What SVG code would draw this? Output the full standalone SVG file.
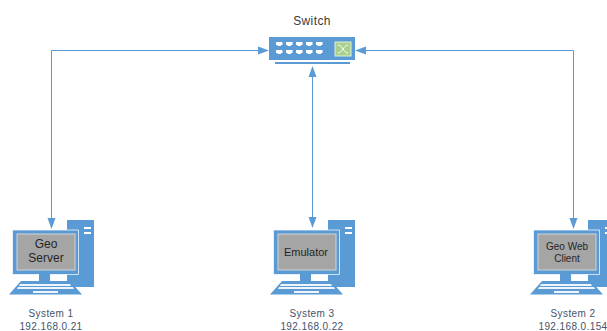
<svg xmlns="http://www.w3.org/2000/svg" xmlns:xlink="http://www.w3.org/1999/xlink" width="607" height="331" viewBox="0 0 607 331">
<style>
text{font-family:"Liberation Sans",Arial,sans-serif;fill:#3a3a3a;text-anchor:middle}
.lab{font-size:10px;letter-spacing:.4px;fill:#44546a}
.in{font-size:12px;fill:#262626}
.b{fill:#5b9bd5}
.w{fill:#fff}
.c{fill:none;stroke:#5b9bd5;stroke-width:1}
</style>
<defs>
<marker id="a" markerUnits="userSpaceOnUse" markerWidth="11" markerHeight="9" refX="10" refY="4.500" orient="auto-start-reverse"><path d="M0 .5L11 4.500L0 8.500Z" fill="#5b9bd5"/></marker>
<path id="port" class="w" d="M0 0H6.500V3H5V4H1.500V3H0Z"/>
<symbol id="pc" overflow="visible" width="95" height="80" viewBox="0 0 95 80">
<path class="b" d="M67 10H94V77H67Z"/>
<path class="w" d="M84 17H91V19H84ZM84 22H91V24H84Z"/>
<path class="b" stroke="#fff" stroke-opacity=".7" d="M12.500 20H78.500V64.500H12.500Z"/>
<rect x="17" y="24" width="58" height="36" fill="#a5a5a5" stroke="#cfd5da"/>
<path class="b" d="M39 64H50V71H39Z"/>
<path class="b" d="M21 71H70L82 84.500H9Z"/>
<path class="w" d="M20 74H70L71 76H19ZM18 77H73L74 79H17ZM33 81H58V83H33Z" opacity=".9"/>
</symbol>
</defs>
<g id="connectors">
<path class="c" marker-start="url(#a)" marker-end="url(#a)" d="M268 50.500H51.500V228"/>
<path class="c" marker-start="url(#a)" marker-end="url(#a)" d="M312.500 67V227"/>
<path class="c" marker-start="url(#a)" marker-end="url(#a)" d="M356 50.500H573.500V228"/>
</g>
<g id="switch">
<rect class="b" x="269" y="37" width="86" height="23"/>
<rect class="b" x="275" y="62" width="75" height="2"/>
<use href="#port" x="276" y="42"/><use href="#port" x="286" y="42"/><use href="#port" x="296" y="42"/><use href="#port" x="306" y="42"/><use href="#port" x="316" y="42"/>
<use href="#port" x="276" y="50"/><use href="#port" x="286" y="50"/><use href="#port" x="296" y="50"/><use href="#port" x="306" y="50"/><use href="#port" x="316" y="50"/>
<rect x="335" y="42" width="16" height="14" fill="#a9d18e" stroke="#e2f0d9"/>
<path d="M338 45C342 45 344 53 348 53M338 53C342 53 344 45 348 45" fill="none" stroke="#fff"/>
<text x="312" y="25" style="font-size:12px;letter-spacing:.4px">Switch</text>
</g>
<g id="system1">
<use xlink:href="#pc" href="#pc" x="0" y="210"/>
<text class="in" x="46" y="248">Geo</text>
<text class="in" x="46" y="262">Server</text>
<text class="lab" x="51" y="317">System 1</text>
<text class="lab" x="51" y="330">192.168.0.21</text>
</g>
<g id="system3">
<use xlink:href="#pc" href="#pc" x="261" y="210"/>
<text class="in" x="306" y="256" style="font-size:11px">Emulator</text>
<text class="lab" x="312" y="317">System 3</text>
<text class="lab" x="312" y="330">192.168.0.22</text>
</g>
<g id="system2">
<use xlink:href="#pc" href="#pc" x="521" y="210"/>
<text class="in" x="567" y="250" style="font-size:10px">Geo Web</text>
<text class="in" x="567" y="262" style="font-size:10px">Client</text>
<text class="lab" x="573" y="317">System 2</text>
<text class="lab" x="573" y="330">192.168.0.154</text>
</g>
</svg>
